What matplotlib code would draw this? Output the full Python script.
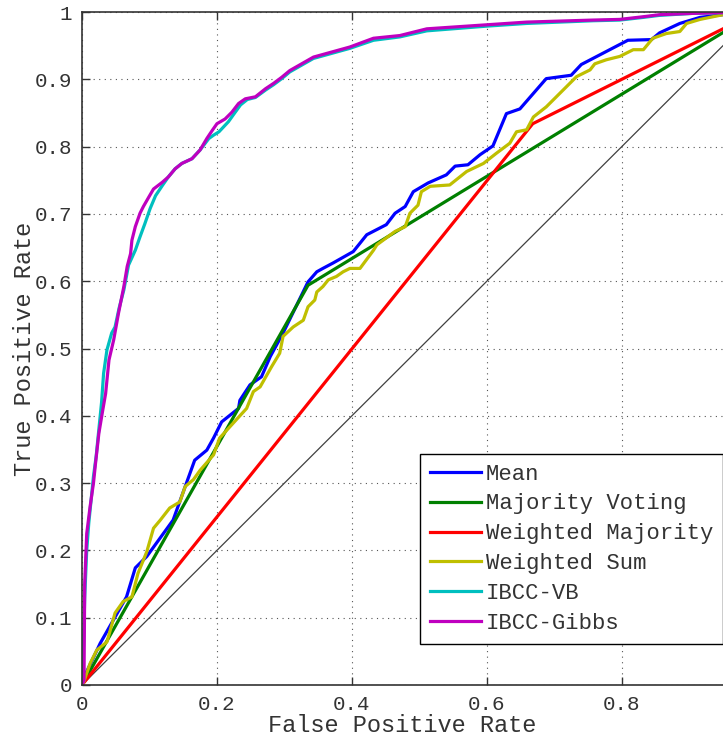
import numpy as np
import matplotlib
matplotlib.use("Agg")
import matplotlib.pyplot as plt

plt.rcParams['font.family'] = ['Liberation Mono', 'DejaVu Sans Mono']

# ROC curves: (false positive rate, true positive rate)
mean_fpr = [0, 0.007, 0.027, 0.066, 0.079, 0.096, 0.135, 0.167, 0.185, 0.195, 0.207, 0.232, 0.234,
            0.249, 0.266, 0.279, 0.298, 0.335, 0.348, 0.357, 0.372, 0.402, 0.422, 0.451, 0.464, 0.479,
            0.491, 0.513, 0.540, 0.553, 0.572, 0.590, 0.609, 0.629, 0.649, 0.688, 0.725, 0.740, 0.809,
            0.844, 0.856, 0.886, 0.916, 0.950, 1.0]
mean_tpr = [0, 0.020, 0.062, 0.131, 0.174, 0.191, 0.245, 0.334, 0.349, 0.367, 0.391, 0.411, 0.423,
            0.446, 0.458, 0.488, 0.523, 0.599, 0.614, 0.619, 0.627, 0.644, 0.669, 0.684, 0.701, 0.711,
            0.733, 0.746, 0.758, 0.771, 0.773, 0.788, 0.801, 0.849, 0.856, 0.901, 0.906, 0.922, 0.958,
            0.959, 0.969, 0.983, 0.992, 0.996, 1.0]

mv_fpr = [0, 0.335, 1.0]
mv_tpr = [0, 0.594, 1.0]

wm_fpr = [0, 0.668, 1.0]
wm_tpr = [0, 0.834, 1.0]

ws_fpr = [0, 0.002, 0.012, 0.022, 0.037, 0.049, 0.061, 0.074, 0.083, 0.096, 0.106, 0.116, 0.130,
          0.145, 0.153, 0.165, 0.175, 0.195, 0.204, 0.224, 0.244, 0.254, 0.264, 0.281, 0.293, 0.298,
          0.313, 0.328, 0.335, 0.345, 0.348, 0.357, 0.365, 0.377, 0.387, 0.397, 0.412, 0.432, 0.437,
          0.464, 0.479, 0.486, 0.498, 0.503, 0.516, 0.545, 0.570, 0.595, 0.614, 0.634, 0.644, 0.659,
          0.669, 0.688, 0.708, 0.733, 0.753, 0.760, 0.777, 0.797, 0.817, 0.832, 0.846, 0.866, 0.886,
          0.896, 0.916, 0.950, 1.0]
ws_tpr = [0, 0.003, 0.032, 0.052, 0.064, 0.107, 0.124, 0.131, 0.166, 0.198, 0.233, 0.245, 0.263,
          0.272, 0.295, 0.305, 0.319, 0.342, 0.367, 0.389, 0.411, 0.436, 0.443, 0.473, 0.493, 0.518,
          0.532, 0.542, 0.562, 0.572, 0.584, 0.592, 0.602, 0.607, 0.614, 0.619, 0.619, 0.646, 0.654,
          0.674, 0.681, 0.701, 0.713, 0.733, 0.741, 0.743, 0.763, 0.775, 0.790, 0.805, 0.822, 0.825,
          0.844, 0.859, 0.879, 0.904, 0.914, 0.923, 0.929, 0.934, 0.944, 0.944, 0.961, 0.968, 0.971,
          0.983, 0.989, 0.996, 1.0]

vb_fpr = [0, 0.002, 0.004, 0.007, 0.010, 0.013, 0.017, 0.021, 0.025, 0.029, 0.032, 0.037, 0.044,
          0.049, 0.055, 0.062, 0.069, 0.079, 0.086, 0.093, 0.101, 0.109, 0.119, 0.128, 0.138, 0.148,
          0.163, 0.175, 0.188, 0.195, 0.203, 0.217, 0.227, 0.235, 0.245, 0.257, 0.272, 0.284, 0.296,
          0.308, 0.343, 0.397, 0.432, 0.471, 0.511, 0.600, 0.659, 0.757, 0.797, 0.832, 0.856, 0.906,
          0.950, 1.0]
vb_tpr = [0, 0.050, 0.130, 0.200, 0.240, 0.270, 0.310, 0.340, 0.380, 0.420, 0.463, 0.498, 0.523,
          0.532, 0.560, 0.587, 0.624, 0.646, 0.666, 0.685, 0.708, 0.727, 0.742, 0.755, 0.767, 0.775,
          0.782, 0.795, 0.812, 0.817, 0.822, 0.837, 0.851, 0.862, 0.870, 0.873, 0.884, 0.892, 0.901,
          0.911, 0.931, 0.946, 0.958, 0.963, 0.972, 0.979, 0.983, 0.987, 0.988, 0.992, 0.995, 0.998,
          0.999, 1.0]

gibbs_fpr = [0, 0.003, 0.004, 0.007, 0.012, 0.017, 0.020, 0.025, 0.030, 0.035, 0.040, 0.047, 0.054,
             0.062, 0.067, 0.072, 0.074, 0.079, 0.086, 0.091, 0.099, 0.106, 0.119, 0.128, 0.138, 0.148,
             0.163, 0.175, 0.185, 0.193, 0.200, 0.212, 0.222, 0.232, 0.242, 0.257, 0.272, 0.284, 0.296,
             0.308, 0.343, 0.397, 0.432, 0.471, 0.511, 0.600, 0.659, 0.757, 0.797, 0.832, 0.856, 0.906,
             0.950, 1.0]
gibbs_tpr = [0, 0.007, 0.151, 0.225, 0.265, 0.300, 0.329, 0.374, 0.404, 0.433, 0.483, 0.513, 0.552,
             0.592, 0.622, 0.641, 0.661, 0.681, 0.701, 0.711, 0.725, 0.737, 0.747, 0.755, 0.767, 0.775,
             0.782, 0.795, 0.812, 0.824, 0.834, 0.841, 0.851, 0.864, 0.871, 0.874, 0.886, 0.894, 0.903,
             0.913, 0.933, 0.948, 0.961, 0.965, 0.975, 0.981, 0.985, 0.988, 0.989, 0.993, 0.996, 0.998,
             0.999, 1.0]

chance = [0, 1]

xticks = [0, 0.2, 0.4, 0.6, 0.8]
xticklabels = ['0', '0.2', '0.4', '0.6', '0.8']
yticks = [0, 0.1, 0.2, 0.3, 0.4, 0.5, 0.6, 0.7, 0.8, 0.9, 1.0]
yticklabels = ['0', '0.1', '0.2', '0.3', '0.4', '0.5', '0.6', '0.7', '0.8', '0.9', '1']

txt = '#333333'
lw = 2.3

fig = plt.figure(figsize=(7.23, 7.38), dpi=100)
ax = fig.add_axes([82/723, 1 - 685/738, 1 - 82/723, 673/738])

ax.plot(chance, chance, color='#404040', linewidth=0.9)
ax.plot(mean_fpr, mean_tpr, color=(0, 0, 1), linewidth=lw, label='Mean')
ax.plot(mv_fpr, mv_tpr, color=(0, 0.5, 0), linewidth=lw, label='Majority Voting')
ax.plot(wm_fpr, wm_tpr, color=(1, 0, 0), linewidth=lw, label='Weighted Majority')
ax.plot(ws_fpr, ws_tpr, color=(0.75, 0.75, 0), linewidth=lw, label='Weighted Sum')
ax.plot(vb_fpr, vb_tpr, color=(0, 0.75, 0.75), linewidth=lw, label='IBCC-VB')
ax.plot(gibbs_fpr, gibbs_tpr, color=(0.75, 0, 0.75), linewidth=lw, label='IBCC-Gibbs')

ax.set_xlim(0, 0.95)
ax.set_ylim(0, 1)
ax.set_xticks(xticks)
ax.set_xticklabels(xticklabels)
ax.set_yticks(yticks)
ax.set_yticklabels(yticklabels)
ax.tick_params(direction='in', top=True, right=False, length=6, width=1,
               color=txt, labelcolor=txt, labelsize=15, pad=7)
ax.grid(True, linestyle=(0, (1, 4)), color='#555555', linewidth=0.8)

for side in ['left', 'bottom', 'top']:
    ax.spines[side].set_color(txt)
    ax.spines[side].set_linewidth(1.2)
ax.spines['right'].set_visible(False)

ax.set_xlabel('False Positive Rate', fontsize=17, color=txt, labelpad=0)
ax.set_ylabel('True Positive Rate', fontsize=17, color=txt, labelpad=-1)

leg = ax.legend(loc='lower right', bbox_to_anchor=(1.0, 0.061), borderaxespad=0,
                fontsize=16, fancybox=False, framealpha=1, edgecolor='black',
                handlelength=2.3, handletextpad=0.2, labelspacing=0.4, borderpad=0.45)
leg.get_frame().set_linewidth(1.0)
for t in leg.get_texts():
    t.set_color(txt)

fig.savefig('out.png', dpi=100)
